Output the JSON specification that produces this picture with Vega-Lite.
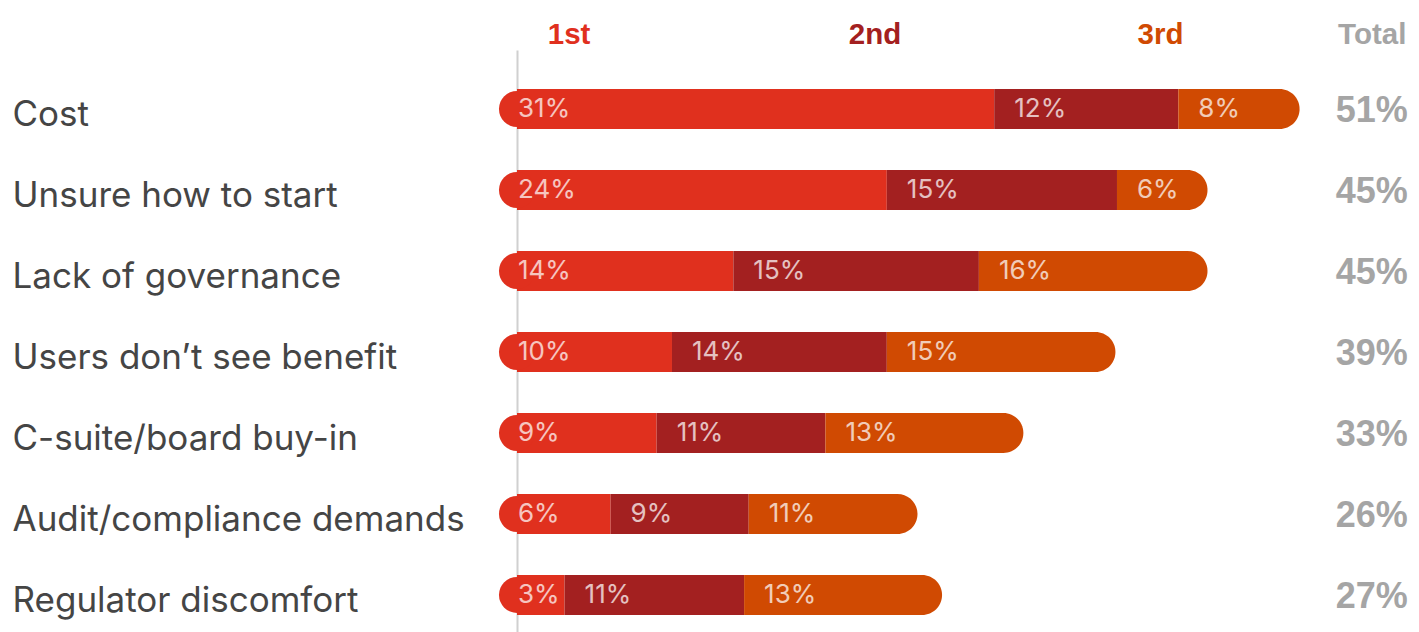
{
  "$schema": "https://vega.github.io/schema/vega-lite/v6.json",
  "width": 890,
  "height": 582,
  "autosize": {"type": "none"},
  "padding": {"left": 517, "right": 12, "top": 50, "bottom": 0},
  "background": "white",
  "config": {"view": {"stroke": null}},
  "datasets": {
    "segments": [
      {"category": "Cost", "rank": "1st", "order": 1, "value": 31.1, "label": "31%"},
      {"category": "Cost", "rank": "2nd", "order": 2, "value": 12.0, "label": "12%"},
      {"category": "Cost", "rank": "3rd", "order": 3, "value": 7.9, "label": "8%"},
      {"category": "Unsure how to start", "rank": "1st", "order": 1, "value": 24.1, "label": "24%"},
      {"category": "Unsure how to start", "rank": "2nd", "order": 2, "value": 15.0, "label": "15%"},
      {"category": "Unsure how to start", "rank": "3rd", "order": 3, "value": 5.9, "label": "6%"},
      {"category": "Lack of governance", "rank": "1st", "order": 1, "value": 14.1, "label": "14%"},
      {"category": "Lack of governance", "rank": "2nd", "order": 2, "value": 16.0, "label": "15%"},
      {"category": "Lack of governance", "rank": "3rd", "order": 3, "value": 14.9, "label": "16%"},
      {"category": "Users don’t see benefit", "rank": "1st", "order": 1, "value": 10.1, "label": "10%"},
      {"category": "Users don’t see benefit", "rank": "2nd", "order": 2, "value": 14.0, "label": "14%"},
      {"category": "Users don’t see benefit", "rank": "3rd", "order": 3, "value": 14.9, "label": "15%"},
      {"category": "C-suite/board buy-in", "rank": "1st", "order": 1, "value": 9.1, "label": "9%"},
      {"category": "C-suite/board buy-in", "rank": "2nd", "order": 2, "value": 11.0, "label": "11%"},
      {"category": "C-suite/board buy-in", "rank": "3rd", "order": 3, "value": 12.9, "label": "13%"},
      {"category": "Audit/compliance demands", "rank": "1st", "order": 1, "value": 6.1, "label": "6%"},
      {"category": "Audit/compliance demands", "rank": "2nd", "order": 2, "value": 9.0, "label": "9%"},
      {"category": "Audit/compliance demands", "rank": "3rd", "order": 3, "value": 11.0, "label": "11%"},
      {"category": "Regulator discomfort", "rank": "1st", "order": 1, "value": 3.1, "label": "3%"},
      {"category": "Regulator discomfort", "rank": "2nd", "order": 2, "value": 11.7, "label": "11%"},
      {"category": "Regulator discomfort", "rank": "3rd", "order": 3, "value": 12.9, "label": "13%"}
    ],
    "totals": [
      {"category": "Cost", "total": "51%"},
      {"category": "Unsure how to start", "total": "45%"},
      {"category": "Lack of governance", "total": "45%"},
      {"category": "Users don’t see benefit", "total": "39%"},
      {"category": "C-suite/board buy-in", "total": "33%"},
      {"category": "Audit/compliance demands", "total": "26%"},
      {"category": "Regulator discomfort", "total": "27%"}
    ]
  },
  "layer": [
    {
      "data": {"name": "segments"},
      "transform": [
        {"stack": "value", "groupby": ["category"], "sort": [{"field": "order", "order": "ascending"}], "as": ["x0", "x1"]},
        {"filter": "datum.rank !== '3rd'"}
      ],
      "mark": {"type": "bar"},
      "encoding": {
        "y": {
          "field": "category", "type": "nominal",
          "sort": ["Cost", "Unsure how to start", "Lack of governance", "Users don’t see benefit", "C-suite/board buy-in", "Audit/compliance demands", "Regulator discomfort"],
          "scale": {"paddingInner": 0.506, "paddingOuter": 0.3457, "align": 0.696},
          "axis": {
            "title": null, "orient": "left", "ticks": false,
            "domain": true, "domainColor": "#d0d0d0", "domainWidth": 2,
            "labelAlign": "left", "labelPadding": 505, "labelFont": "Inter",
            "labelFontSize": 35, "labelColor": "#454545", "labelLimit": 0,
            "labelOffset": 6, "labelBaseline": "middle"
          }
        },
        "x": {
          "field": "x0", "type": "quantitative",
          "scale": {"domain": [0, 58], "nice": false, "zero": false},
          "axis": {
            "orient": "top", "title": null, "values": [3.36, 23.3, 41.9, 55.7],
            "labelExpr": "datum.value < 10 ? '1st' : datum.value < 30 ? '2nd' : datum.value < 50 ? '3rd' : 'Total'",
            "labelColor": {"condition": [
              {"test": "datum.value < 10", "value": "#e0301e"},
              {"test": "datum.value < 30", "value": "#a32020"},
              {"test": "datum.value < 50", "value": "#d04a02"}
            ], "value": "#a5a5a5"},
            "labelFont": "Liberation Sans", "labelFontWeight": "bold", "labelFontSize": 29.5,
            "labelBaseline": "alphabetic", "labelPadding": 7, "labelAlign": "center",
            "labelFlush": false, "labelOverlap": false,
            "ticks": false, "domain": false, "grid": false
          }
        },
        "x2": {"field": "x1"},
        "color": {
          "field": "rank", "type": "nominal",
          "scale": {"domain": ["1st", "2nd", "3rd"], "range": ["#e0301e", "#a32020", "#d04a02"]},
          "legend": null
        }
      }
    },
    {
      "data": {"name": "segments"},
      "transform": [
        {"stack": "value", "groupby": ["category"], "sort": [{"field": "order", "order": "ascending"}], "as": ["x0", "x1"]},
        {"filter": "datum.rank === '3rd'"}
      ],
      "mark": {"type": "bar", "cornerRadiusTopRight": 20, "cornerRadiusBottomRight": 20},
      "encoding": {
        "y": {"field": "category", "type": "nominal", "sort": ["Cost", "Unsure how to start", "Lack of governance", "Users don’t see benefit", "C-suite/board buy-in", "Audit/compliance demands", "Regulator discomfort"]},
        "x": {"field": "x0", "type": "quantitative"},
        "x2": {"field": "x1"},
        "color": {"field": "rank", "type": "nominal", "legend": null}
      }
    },
    {
      "data": {"name": "segments"},
      "transform": [{"filter": "datum.rank === '1st'"}],
      "mark": {"type": "point", "shape": "circle", "filled": true, "size": 1300, "opacity": 1, "strokeWidth": 0},
      "encoding": {
        "y": {"field": "category", "type": "nominal", "sort": ["Cost", "Unsure how to start", "Lack of governance", "Users don’t see benefit", "C-suite/board buy-in", "Audit/compliance demands", "Regulator discomfort"]},
        "x": {"datum": 0, "type": "quantitative"},
        "color": {"field": "rank", "type": "nominal", "legend": null}
      }
    },
    {
      "data": {"name": "segments"},
      "transform": [
        {"stack": "value", "groupby": ["category"], "sort": [{"field": "order", "order": "ascending"}], "as": ["x0", "x1"]},
        {"filter": "datum.rank === '1st'"}
      ],
      "mark": {"type": "text", "align": "left", "baseline": "middle", "dx": 1, "font": "Inter", "fontSize": 26, "color": "white", "opacity": 0.72},
      "encoding": {
        "y": {"field": "category", "type": "nominal", "sort": ["Cost", "Unsure how to start", "Lack of governance", "Users don’t see benefit", "C-suite/board buy-in", "Audit/compliance demands", "Regulator discomfort"]},
        "x": {"field": "x0", "type": "quantitative"},
        "text": {"field": "label", "type": "nominal"}
      }
    },
    {
      "data": {"name": "segments"},
      "transform": [
        {"stack": "value", "groupby": ["category"], "sort": [{"field": "order", "order": "ascending"}], "as": ["x0", "x1"]},
        {"filter": "datum.rank !== '1st'"}
      ],
      "mark": {"type": "text", "align": "left", "baseline": "middle", "dx": 20, "font": "Inter", "fontSize": 26, "color": "white", "opacity": 0.72},
      "encoding": {
        "y": {"field": "category", "type": "nominal", "sort": ["Cost", "Unsure how to start", "Lack of governance", "Users don’t see benefit", "C-suite/board buy-in", "Audit/compliance demands", "Regulator discomfort"]},
        "x": {"field": "x0", "type": "quantitative"},
        "text": {"field": "label", "type": "nominal"}
      }
    },
    {
      "data": {"name": "totals"},
      "mark": {"type": "text", "align": "center", "baseline": "middle", "dy": 2, "font": "Liberation Sans", "fontWeight": "bold", "fontSize": 36, "color": "#a5a5a5"},
      "encoding": {
        "y": {"field": "category", "type": "nominal", "sort": ["Cost", "Unsure how to start", "Lack of governance", "Users don’t see benefit", "C-suite/board buy-in", "Audit/compliance demands", "Regulator discomfort"]},
        "x": {"datum": 55.7, "type": "quantitative"},
        "text": {"field": "total", "type": "nominal"}
      }
    }
  ]
}
